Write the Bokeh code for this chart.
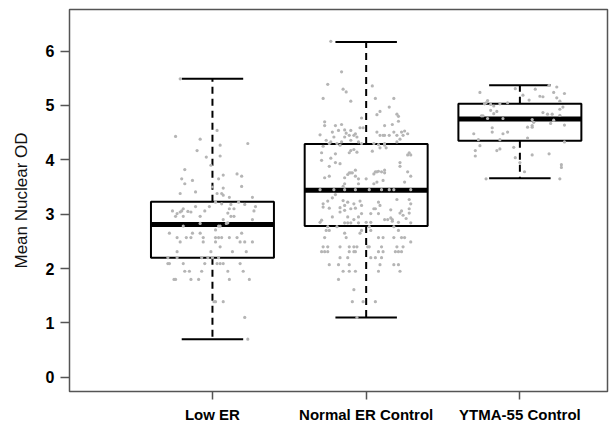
from bokeh.plotting import figure
from bokeh.models import Range1d, FixedTicker, ColumnDataSource
from bokeh.embed import file_html
from bokeh.resources import INLINE

categories = ["Low ER", "Normal ER Control", "YTMA-55 Control"]
cat_pos = [1, 2, 3]
lower_whisker = [0.70, 1.10, 3.66]
q1 = [2.20, 2.78, 4.35]
median = [2.81, 3.44, 4.75]
q3 = [3.23, 4.29, 5.03]
upper_whisker = [5.49, 6.17, 5.37]
y_ticks = [0, 1, 2, 3, 4, 5, 6]

# (Mean Nuclear OD, horizontal jitter) pairs
low_er_points = [
    (5.49, -0.21), (4.54, 0.03), (4.43, -0.24), (4.38, -0.08), (4.27, 0.05), (4.30, 0.23),
    (4.17, -0.10), (4.05, -0.04), (4.07, 0.05), (3.90, -0.01), (3.82, -0.18), (3.65, -0.20),
    (3.62, -0.13), (3.56, -0.18), (3.65, 0.04), (3.72, 0.07), (3.74, 0.16), (3.70, 0.19),
    (3.50, 0.00), (3.48, 0.07), (3.51, 0.19), (3.38, -0.21), (3.41, -0.11), (3.38, 0.03),
    (3.38, 0.06), (3.35, 0.07), (3.31, 0.11), (3.31, 0.26),
    (3.22, 0.02), (3.22, 0.17), (3.19, 0.06), (3.18, 0.12), (3.18, 0.21), (3.14, -0.11),
    (3.14, -0.02), (3.14, 0.28), (3.10, -0.19), (3.10, 0.11), (3.10, 0.14), (3.06, -0.20),
    (3.06, -0.26), (3.04, -0.21), (3.05, -0.16), (3.04, -0.14), (3.06, -0.05), (3.06, 0.27),
    (3.02, 0.10), (3.01, -0.23), (2.96, -0.24), (2.96, -0.19), (2.96, -0.08), (2.96, 0.12),
    (2.96, 0.14), (2.90, 0.07), (2.90, 0.26), (2.84, 0.10),
    (2.78, -0.19), (2.83, -0.08), (2.78, 0.04), (2.78, 0.05), (2.83, 0.09),
    (2.71, 0.02), (2.65, -0.28), (2.65, -0.13), (2.65, -0.08), (2.65, 0.19), (2.57, -0.23),
    (2.57, -0.17), (2.57, -0.14), (2.57, -0.06), (2.57, 0.02), (2.57, 0.04), (2.57, 0.06),
    (2.57, 0.11), (2.57, 0.16), (2.49, -0.21), (2.49, -0.06), (2.49, 0.02), (2.49, 0.18),
    (2.49, 0.21), (2.49, 0.26), (2.40, 0.05), (2.31, -0.23), (2.31, -0.01), (2.31, 0.13),
    (2.31, 0.22),
    (2.20, -0.29), (2.20, -0.23), (2.20, -0.07), (2.20, -0.03), (2.20, 0.00), (2.20, 0.04),
    (2.09, -0.29), (2.09, -0.28), (2.09, -0.19), (2.09, -0.05), (2.09, 0.03), (2.09, 0.05),
    (2.09, 0.07), (2.09, 0.18),
    (1.95, -0.18), (1.95, -0.15), (1.95, -0.07), (1.95, 0.10), (1.95, 0.20),
    (1.80, -0.25), (1.80, -0.24), (1.80, -0.14), (1.80, -0.09), (1.80, 0.11), (1.80, 0.24),
    (1.39, 0.01), (1.39, 0.02), (1.39, 0.07), (1.10, 0.21), (0.70, 0.23),
]

normal_er_points = [
    (6.18, -0.23), (5.62, -0.16), (5.39, -0.25), (5.36, 0.04), (5.30, -0.15), (5.25, -0.13),
    (5.13, -0.28), (5.13, 0.06), (5.13, 0.18), (5.08, -0.10), (4.97, 0.15), (4.89, 0.09),
    (4.83, 0.07), (4.84, 0.20), (4.80, 0.21), (4.77, -0.03), (4.70, -0.27), (4.63, -0.27),
    (4.71, 0.21), (4.63, -0.20), (4.65, -0.16), (4.63, 0.12), (4.65, 0.17), (4.51, -0.22),
    (4.54, -0.18), (4.55, -0.14), (4.49, -0.13), (4.54, -0.10), (4.59, -0.04), (4.59, -0.02),
    (4.51, 0.07), (4.45, 0.09), (4.45, 0.11), (4.45, 0.12), (4.45, 0.15), (4.51, 0.18),
    (4.45, 0.20), (4.51, 0.23), (4.53, 0.25), (4.48, 0.27), (4.46, -0.30), (4.45, 0.24),
    (4.36, -0.26), (4.33, -0.23), (4.42, -0.21), (4.42, -0.14), (4.45, -0.11), (4.45, -0.08),
    (4.48, -0.07), (4.42, -0.06), (4.36, -0.10), (4.33, -0.16), (4.30, -0.19), (4.33, -0.05),
    (4.30, -0.03), (4.28, 0.08), (4.30, 0.12), (4.33, 0.20), (4.38, 0.22), (4.25, -0.28),
    (4.30, -0.24), (4.27, -0.17), (4.30, 0.05),
    (4.13, -0.29), (4.11, -0.20), (4.13, -0.11), (4.14, -0.06), (4.19, -0.08), (4.17, -0.10),
    (4.16, 0.04), (4.22, 0.09), (4.27, 0.12), (4.22, 0.13), (4.13, 0.28), (4.09, 0.27),
    (4.09, 0.29), (4.03, -0.23), (3.99, -0.29), (3.95, -0.20), (3.93, -0.17), (3.88, -0.24),
    (3.81, -0.07), (3.78, 0.06), (3.79, 0.08), (3.78, 0.10), (3.81, 0.12), (3.95, 0.22),
    (3.88, 0.22), (3.76, -0.11), (3.76, -0.09),
    (3.67, -0.27), (3.70, -0.24), (3.67, -0.14), (3.73, -0.12), (3.76, -0.10), (3.70, -0.07),
    (3.65, -0.05), (3.65, 0.00), (3.74, 0.05), (3.78, 0.07), (3.76, 0.12), (3.56, 0.05),
    (3.59, 0.07), (3.62, 0.11), (3.78, 0.27), (3.70, 0.29), (3.59, 0.25), (3.56, -0.14),
    (3.56, -0.05), (3.51, -0.15),
    (3.45, -0.30), (3.45, -0.21), (3.45, -0.14), (3.45, -0.07), (3.45, 0.02), (3.45, 0.10),
    (3.45, 0.15), (3.45, 0.18), (3.45, 0.29),
    (3.36, -0.20), (3.30, -0.22), (3.24, -0.25), (3.25, -0.15), (3.22, -0.12), (3.19, -0.08),
    (3.24, -0.04), (3.19, -0.28), (3.13, -0.28), (3.11, -0.24), (3.12, -0.17), (3.16, -0.14),
    (3.10, -0.10), (3.11, -0.07), (3.16, -0.03), (3.22, 0.08), (3.16, 0.09), (3.10, 0.05),
    (3.10, 0.06), (3.27, 0.20), (3.27, 0.28), (3.19, 0.29), (3.10, 0.28), (3.04, -0.17),
    (3.07, -0.14), (3.01, -0.03), (3.01, 0.03), (3.01, 0.08), (3.08, 0.16), (3.02, 0.22),
    (3.06, 0.23), (2.98, 0.24), (3.02, 0.28), (2.95, -0.22), (2.95, -0.12), (2.95, -0.05),
    (2.90, 0.12), (2.90, 0.14), (2.93, 0.16), (2.90, 0.17), (2.90, -0.08), (2.85, -0.30),
    (2.89, -0.29), (2.84, -0.14), (2.84, -0.12), (2.84, -0.10), (2.84, -0.05), (2.85, 0.00),
    (2.85, 0.03), (2.87, 0.17), (2.85, 0.21), (2.84, 0.29), (2.92, 0.26),
    (2.77, -0.25), (2.77, -0.19), (2.77, 0.02), (2.77, 0.18),
    (2.70, -0.26), (2.70, -0.24), (2.65, -0.14), (2.70, -0.03), (2.65, -0.04), (2.70, 0.03),
    (2.70, 0.21),
    (2.57, -0.27), (2.57, -0.13), (2.57, 0.08), (2.57, 0.11), (2.57, 0.18), (2.57, 0.23),
    (2.57, 0.25), (2.49, 0.29),
    (2.40, -0.28), (2.40, -0.25), (2.40, -0.17), (2.40, -0.11), (2.40, -0.08), (2.40, -0.06),
    (2.40, 0.01), (2.40, 0.02), (2.40, 0.10), (2.40, 0.20), (2.40, 0.24),
    (2.31, -0.29), (2.31, -0.27), (2.31, -0.25), (2.31, -0.11), (2.31, -0.08), (2.31, -0.07),
    (2.31, 0.08), (2.31, 0.11), (2.31, 0.19), (2.31, 0.21), (2.31, 0.23),
    (2.20, -0.17), (2.20, -0.12), (2.20, 0.03), (2.20, 0.06), (2.20, 0.10),
    (2.07, -0.24), (2.07, -0.18), (2.07, -0.11), (2.07, 0.09), (2.07, 0.18), (2.07, 0.21),
    (1.95, -0.15), (1.95, -0.11), (1.95, -0.07), (1.95, 0.08), (1.95, 0.22),
    (1.80, -0.18), (1.61, -0.08), (1.39, -0.09), (1.39, -0.02), (1.39, 0.06), (1.10, -0.06),
]

ytma_points = [
    (5.37, 0.19), (5.34, 0.24), (5.31, -0.03), (5.30, 0.10), (5.24, -0.26), (5.19, 0.02),
    (5.24, 0.22), (5.22, 0.29), (5.17, 0.13), (5.16, 0.15), (5.14, 0.24), (5.10, 0.06),
    (5.08, 0.26), (5.09, -0.21), (5.03, -0.23), (5.05, -0.22), (5.02, -0.19), (4.99, -0.17),
    (5.03, -0.13), (5.05, -0.08), (4.97, 0.28), (4.93, 0.26), (4.91, -0.19), (4.89, -0.15),
    (4.85, -0.17), (4.87, 0.15), (4.84, 0.18), (4.84, 0.21), (4.82, 0.26), (4.81, -0.25),
    (4.81, -0.24), (4.76, -0.21), (4.76, -0.11), (4.74, 0.08), (4.73, 0.22), (4.67, 0.20),
    (4.69, 0.09), (4.63, 0.08), (4.60, 0.08), (4.60, 0.05), (4.64, 0.29), (4.59, -0.18),
    (4.51, -0.18), (4.51, -0.08), (4.48, -0.11), (4.48, -0.30), (4.40, 0.05), (4.37, -0.27),
    (4.37, -0.13), (4.33, 0.29), (4.26, -0.26), (4.23, -0.04), (4.20, -0.13), (4.17, -0.15),
    (4.17, -0.29), (4.07, -0.29), (4.09, 0.08), (4.11, 0.19), (4.04, -0.03), (3.95, 0.00),
    (3.91, 0.27), (3.86, 0.27), (3.78, 0.03), (3.65, -0.22), (3.65, 0.26),
]

groups = [low_er_points, normal_er_points, ytma_points]

BOX_W = 0.8
STAPLE_W = 0.4
LINE_W = 2
TEXT_FONT = "Liberation Sans"

p = figure(width=612, height=425, output_backend="svg", toolbar_location=None,
           x_range=Range1d(0.07, 3.57), y_range=Range1d(-0.263, 6.766),
           min_border_left=69, min_border_right=5, min_border_top=9, min_border_bottom=34)

p.xgrid.visible = False
p.ygrid.visible = False
p.outline_line_color = "#555555"
p.outline_line_width = 1.5
p.background_fill_color = "white"
p.border_fill_color = "white"

src = ColumnDataSource(dict(
    x=cat_pos,
    left=[c - BOX_W / 2 for c in cat_pos],
    right=[c + BOX_W / 2 for c in cat_pos],
    sl=[c - STAPLE_W / 2 for c in cat_pos],
    sr=[c + STAPLE_W / 2 for c in cat_pos],
    lo=lower_whisker, q1=q1, med=median, q3=q3, hi=upper_whisker,
))

# whiskers
p.segment(x0="x", y0="q3", x1="x", y1="hi", source=src, line_color="black",
          line_width=LINE_W, line_dash="7 5")
p.segment(x0="x", y0="q1", x1="x", y1="lo", source=src, line_color="black",
          line_width=LINE_W, line_dash="7 5")
# staples
p.segment(x0="sl", y0="hi", x1="sr", y1="hi", source=src, line_color="black", line_width=LINE_W)
p.segment(x0="sl", y0="lo", x1="sr", y1="lo", source=src, line_color="black", line_width=LINE_W)
# boxes
p.quad(left="left", right="right", bottom="q1", top="q3", source=src,
       fill_color="white", line_color="black", line_width=LINE_W)
# medians
p.segment(x0="left", y0="med", x1="right", y1="med", source=src, line_color="black",
          line_width=5, line_cap="butt")

# jittered points
px, py = [], []
for c, pts in zip(cat_pos, groups):
    for v, j in pts:
        px.append(c + j)
        py.append(v)
p.scatter(x=px, y=py, size=3.2, fill_color="#b5b5b5", line_color=None)

# axes
p.yaxis.ticker = FixedTicker(ticks=y_ticks)
p.xaxis.ticker = FixedTicker(ticks=cat_pos)
p.xaxis.major_label_overrides = {c: name for c, name in zip(cat_pos, categories)}
for ax in (p.xaxis[0], p.yaxis[0]):
    ax.axis_line_color = None
    ax.major_tick_line_color = "#555555"
    ax.major_tick_line_width = 1.5
    ax.major_tick_in = 0
    ax.minor_tick_line_color = None
    ax.major_label_text_font = TEXT_FONT
    ax.major_label_text_font_style = "bold"
    ax.major_label_text_color = "black"
p.yaxis.major_tick_out = 9
p.xaxis.major_tick_out = 8
p.yaxis.major_label_text_font_size = "16px"
p.xaxis.major_label_text_font_size = "15px"
p.yaxis.major_label_standoff = 6
p.xaxis.major_label_standoff = 6
p.yaxis.axis_label = "Mean Nuclear OD"
p.yaxis.axis_label_text_font = TEXT_FONT
p.yaxis.axis_label_text_font_style = "normal"
p.yaxis.axis_label_text_font_size = "17px"
p.yaxis.axis_label_text_color = "#111111"
p.yaxis.axis_label_standoff = 12

open("out.html", "w").write(file_html(p, INLINE))
